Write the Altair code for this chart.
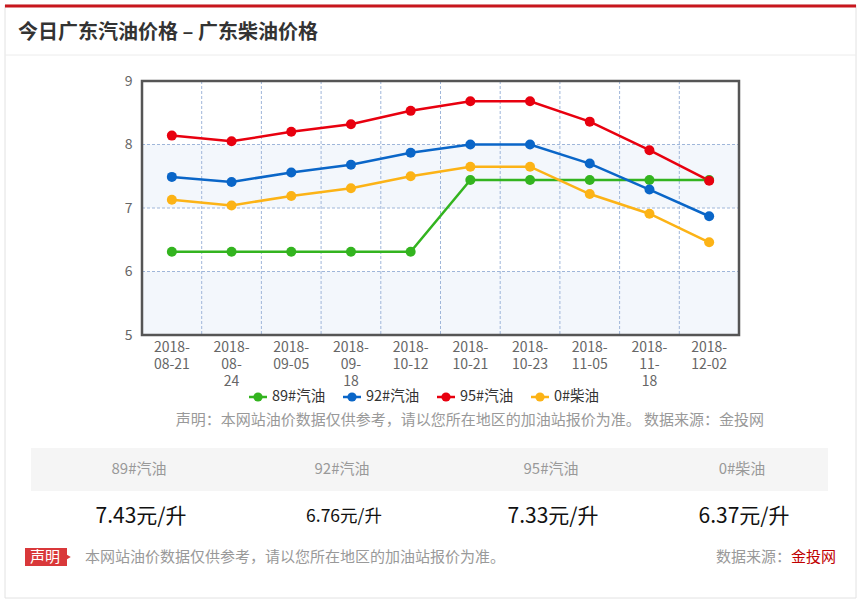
import altair as alt
import pandas as pd

FONT = "Noto Sans CJK SC"

# ---------------- data ----------------
dates = ["2018-08-21", "2018-08-24", "2018-09-05", "2018-09-18", "2018-10-12",
         "2018-10-21", "2018-10-23", "2018-11-05", "2018-11-18", "2018-12-02"]
x_labels = ["2018-\n08-21", "2018-\n08-\n24", "2018-\n09-05", "2018-\n09-\n18", "2018-\n10-12",
            "2018-\n10-21", "2018-\n10-23", "2018-\n11-05", "2018-\n11-\n18", "2018-\n12-02"]
series = ["89#汽油", "92#汽油", "95#汽油", "0#柴油"]
colors = ["#33b41f", "#0a66c8", "#e8000f", "#fcb316"]
p89 = [6.31, 6.31, 6.31, 6.31, 6.31, 7.44, 7.44, 7.44, 7.44, 7.44]
p92 = [7.49, 7.41, 7.56, 7.68, 7.87, 8.00, 8.00, 7.70, 7.29, 6.87]
p95 = [8.14, 8.05, 8.20, 8.32, 8.53, 8.68, 8.68, 8.36, 7.91, 7.43]
p0 = [7.13, 7.04, 7.19, 7.31, 7.50, 7.65, 7.65, 7.22, 6.91, 6.46]
today_prices = ["7.43元/升", "6.76元/升", "7.33元/升", "6.37元/升"]
y_ticks = [5, 6, 7, 8, 9]

title_text = "今日广东汽油价格 – 广东柴油价格"
note_text = "声明：本网站油价数据仅供参考，请以您所在地区的加油站报价为准。 数据来源：金投网"
foot_text = "本网站油价数据仅供参考，请以您所在地区的加油站报价为准。"

rows = []
for s, vals in zip(series, [p89, p92, p95, p0]):
    for i, v in enumerate(vals):
        rows.append({"idx": i, "date": dates[i], "series": s, "price": v})
df = pd.DataFrame(rows)

# ---------------- layout ----------------
W, H = 597, 254
OX, OY = 142, 81          # page position of the plot area


def px(x):
    return x - OX


def py(y):
    return y - OY


xscale = alt.Scale(domain=[-0.5, len(dates) - 0.5], nice=False, zero=False)
yscale = alt.Scale(domain=[5, 9], nice=False, zero=False)
x_enc = alt.X("idx:Q", scale=xscale, axis=None)
y_axis = alt.Axis(values=y_ticks, grid=False, ticks=False, domain=False, title=None,
                  labelFontSize=14, labelColor="#666", labelPadding=10, labelFont=FONT)

one = pd.DataFrame({"k": [0]})


def txt(text, x, y, size, color, align="left", weight="normal", baseline="middle"):
    return alt.Chart(pd.DataFrame({"t": [text]})).mark_text(
        align=align, baseline=baseline, fontSize=size, color=color,
        fontWeight=weight, font=FONT
    ).encode(x=alt.value(x), y=alt.value(y), text="t:N")


def box(x1, x2, y1, y2, **kw):
    return alt.Chart(one).mark_rect(**kw).encode(
        x=alt.value(x1), x2=alt.value(x2), y=alt.value(y1), y2=alt.value(y2))


def hline(x1, x2, y, color, width):
    return alt.Chart(one).mark_rule(color=color, strokeWidth=width).encode(
        x=alt.value(x1), x2=alt.value(x2), y=alt.value(y))


layers = []

# page frame
layers.append(box(px(5), px(856), py(5), py(598), fill="transparent", stroke="#e2e2e2", strokeWidth=1))
layers.append(hline(px(5), px(856), py(6), "#c8161d", 3))
layers.append(hline(px(5), px(856), py(55), "#ececec", 1))
layers.append(txt(title_text, px(18), py(33), 20, "#333", weight="bold"))

# alternate bands
bands = pd.DataFrame({"lo": [5, 7], "hi": [6, 8]})
layers.append(alt.Chart(bands).mark_rect(fill="#f3f7fc").encode(
    x=alt.value(0), x2=alt.value(W),
    y=alt.Y("lo:Q", scale=yscale, axis=y_axis), y2="hi:Q"))

# grid lines
grid_col = "#9fb6d9"
vg = pd.DataFrame({"g": [i + 0.5 for i in range(len(dates) - 1)]})
layers.append(alt.Chart(vg).mark_rule(color=grid_col, strokeWidth=1, strokeDash=[3, 2]).encode(
    x=alt.X("g:Q", scale=xscale, axis=None), y=alt.value(0), y2=alt.value(H)))
hg = pd.DataFrame({"g": [6, 7, 8]})
layers.append(alt.Chart(hg).mark_rule(color=grid_col, strokeWidth=1, strokeDash=[3, 2]).encode(
    y=alt.Y("g:Q", scale=yscale, axis=y_axis), x=alt.value(0), x2=alt.value(W)))

# data
color_enc = alt.Color("series:N", scale=alt.Scale(domain=series, range=colors), legend=None)
layers.append(alt.Chart(df).mark_line(strokeWidth=2.5).encode(
    x=x_enc, y=alt.Y("price:Q", scale=yscale, axis=y_axis), color=color_enc,
    detail="series:N"))
layers.append(alt.Chart(df).mark_circle(size=100, opacity=1).encode(
    x=x_enc, y=alt.Y("price:Q", scale=yscale, axis=y_axis), color=color_enc))

# plot border
layers.append(box(0, W, 0, H, fill="transparent", stroke="#555", strokeWidth=2.5))

# x labels
lab = pd.DataFrame({"idx": list(range(len(dates))), "label": x_labels})
layers.append(alt.Chart(lab).mark_text(
    baseline="top", align="center", lineBreak="\n", lineHeight=17, fontSize=14,
    color="#666", font=FONT
).encode(x=x_enc, y=alt.value(py(341)), text="label:N"))

# legend
for i, (s, c) in enumerate(zip(series, colors)):
    x0 = px(249) + 94 * i
    ly = py(397)
    layers.append(hline(x0, x0 + 18, ly, c, 2.5))
    layers.append(alt.Chart(one).mark_circle(size=85, color=c, opacity=1).encode(
        x=alt.value(x0 + 9), y=alt.value(ly)))
    layers.append(txt(s, x0 + 23, ly, 14.5, "#333"))

# chart note
layers.append(txt(note_text, px(764), py(420), 15, "#999", align="right"))

# price table
layers.append(box(px(31), px(828), py(448), py(491), fill="#f5f5f5"))
centers = [139, 342, 551, 742]
val_sizes = [21, 17.5, 21, 21]
for s, v, cx, fs in zip(series, today_prices, centers, val_sizes):
    layers.append(txt(s, px(cx), py(469), 15, "#999", align="center"))
    layers.append(txt(v, px(cx + 2), py(517), fs, "#111", align="center"))

# footer
layers.append(box(px(25), px(67), py(548), py(566), fill="#d9383a"))
layers.append(alt.Chart(one).mark_point(shape="triangle-right", filled=True, size=40,
                                        color="#d9383a", opacity=1).encode(
    x=alt.value(px(68)), y=alt.value(py(557))))
layers.append(txt("声明", px(45), py(557), 15, "white", align="center"))
layers.append(txt(foot_text, px(85), py(557), 15, "#999"))
layers.append(txt("金投网", px(836), py(557), 15, "#c00000", align="right"))
layers.append(txt("数据来源：", px(791), py(557), 15, "#999", align="right"))

chart = alt.layer(*layers).properties(
    width=W, height=H,
    autosize=alt.AutoSizeParams(type="none"),
    padding={"left": OX, "top": OY, "right": 863 - OX - W, "bottom": 606 - OY - H},
    background="white",
).configure_view(strokeWidth=0)

chart.save("out.html", embed_options={"renderer": "svg", "actions": False})
